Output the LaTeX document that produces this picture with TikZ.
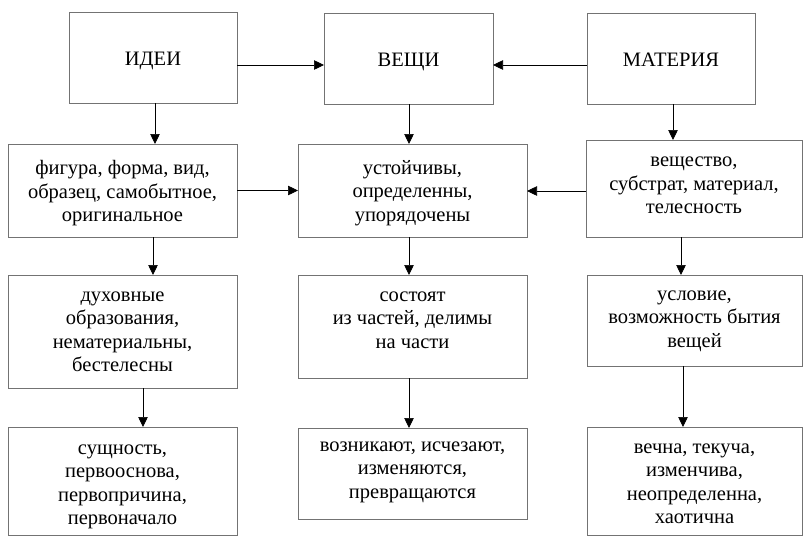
\documentclass[tikz,border=0pt]{standalone}
\usepackage{fontspec}
\setmainfont{Liberation Serif}
\newfontfamily\boxfont{Liberation Serif}
\usetikzlibrary{arrows.meta}
\tikzset{
  box/.style={draw=black!55, line width=0.9pt, inner sep=0pt, outer sep=0pt},
  txt/.style={align=center, inner sep=0pt, anchor=base, font=\boxfont\fontsize{20.5}{23.5}\selectfont},
  arr/.style={draw=black, line width=0.7pt, -{Triangle[length=10pt,width=9.5pt]}}
}
\begin{document}
\begin{tikzpicture}[x=1pt,y={(0pt,-1pt)}]
\useasboundingbox (0,0) rectangle (803,536);
% row 1
\node[box, minimum width=168pt, minimum height=91pt] (ideas)  at (153,57.5) {};
\node[box, minimum width=169pt, minimum height=91pt] (things) at (408.5,58.5) {};
\node[box, minimum width=168pt, minimum height=91pt] (matter) at (671,58.5) {};
\node[txt] (ideas-t)  at (153,65) {ИДЕИ};
\node[txt] (things-t) at (408.5,66.5) {ВЕЩИ};
\node[txt] (matter-t) at (671,66.5) {МАТЕРИЯ};
% row 2 (anchor = baseline of last line)
\node[box, minimum width=229pt, minimum height=93pt] (fig)  at (122.5,190.5) {};
\node[box, minimum width=229pt, minimum height=93pt] (ust)  at (412.5,190.5) {};
\node[box, minimum width=216pt, minimum height=97pt] (vesh) at (694,188.5) {};
\node[txt] (fig-t)  at (122.5,221.5) {фигура, форма, вид,\\образец, самобытное,\\оригинальное};
\node[txt] (ust-t)  at (412.5,221) {устойчивы,\\определенны,\\упорядочены};
\node[txt] (vesh-t) at (694,213.5) {вещество,\\субстрат, материал,\\телесность};
% row 3
\node[box, minimum width=229pt, minimum height=113pt] (dukh) at (122.5,331.5) {};
\node[box, minimum width=229pt, minimum height=103pt] (sost) at (412.5,326.5) {};
\node[box, minimum width=215pt, minimum height=91pt]  (usl)  at (694.5,320.5) {};
\node[txt] (dukh-t) at (122.5,371.8) {духовные\\образования,\\нематериальны,\\бестелесны};
\node[txt] (sost-t) at (412.5,348.3) {состоят\\из частей, делимы\\на части};
\node[txt] (usl-t)  at (694.5,347) {условие,\\возможность бытия\\вещей};
% row 4
\node[box, minimum width=229pt, minimum height=108.5pt] (sush) at (122.5,481.25) {};
\node[box, minimum width=229pt, minimum height=91pt]    (vozn) at (412.5,473.5) {};
\node[box, minimum width=215pt, minimum height=108.5pt] (vech) at (694.5,481.25) {};
\node[txt] (sush-t) at (122.5,524.5) {сущность,\\первооснова,\\первопричина,\\первоначало};
\node[txt] (vozn-t) at (412.5,498.3) {возникают, исчезают,\\изменяются,\\превращаются};
\node[txt] (vech-t) at (694.5,523.5) {вечна, текуча,\\изменчива,\\неопределенна,\\хаотична};
% horizontal arrows
\draw[arr] ([yshift=-7.5pt]ideas.east) -- ([yshift=-7.5pt]ideas.east -| things.west);
\draw[arr] ([yshift=-6.5pt]matter.west) -- ([yshift=-6.5pt]matter.west -| things.east);
\draw[arr] (fig.east) -- (fig.east -| ust.west);
\draw[arr] ([yshift=-2.5pt]vesh.west) -- ([yshift=-2.5pt]vesh.west -| ust.east);
% vertical arrows
\draw[arr] ([xshift=2pt]ideas.south) -- ([xshift=2pt]ideas.south |- fig.north);
\draw[arr] ([xshift=0.5pt]things.south) -- ([xshift=0.5pt]things.south |- ust.north);
\draw[arr] ([xshift=2pt]matter.south) -- ([xshift=2pt]matter.south |- vesh.north);
\draw[arr] ([xshift=30.5pt]fig.south) -- ([xshift=30.5pt]fig.south |- dukh.north);
\draw[arr] ([xshift=-3.5pt]ust.south) -- ([xshift=-3.5pt]ust.south |- sost.north);
\draw[arr] ([xshift=-13pt]vesh.south) -- ([xshift=-13pt]vesh.south |- usl.north);
\draw[arr] ([xshift=20.5pt]dukh.south) -- ([xshift=20.5pt]dukh.south |- sush.north);
\draw[arr] ([xshift=-3.5pt]sost.south) -- ([xshift=-3.5pt]sost.south |- vozn.north);
\draw[arr] ([xshift=-11.5pt]usl.south) -- ([xshift=-11.5pt]usl.south |- vech.north);
\end{tikzpicture}
\end{document}
